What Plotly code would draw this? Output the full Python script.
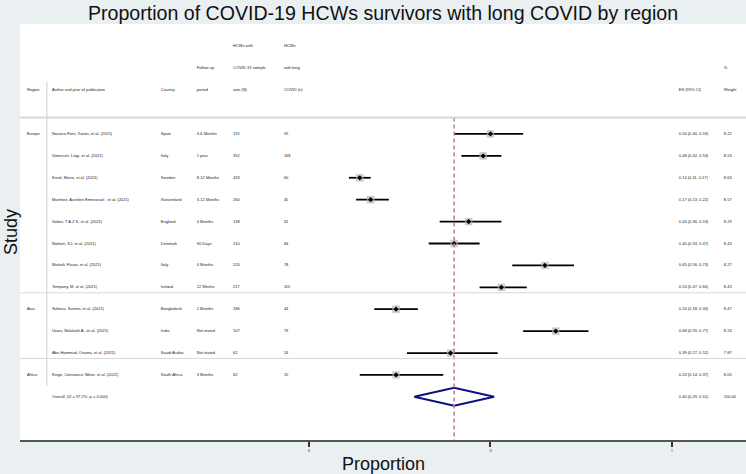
import plotly.graph_objects as go
import numpy as np

# study level data
regions = ["Europe", "Europe", "Europe", "Europe", "Europe", "Europe", "Europe", "Europe",
           "Asia", "Asia", "Asia", "Africa"]
authors = ["Navarro Font, Xavier, et al. (2021)",
           "Vimercati, Luigi, et al. (2021)",
           "Kisiel, Marta, et al. (2021)",
           "Martinez, Aurelien Emmanuel , et al. (2021)",
           "Gaber, T A-Z K, et al. (2021)",
           "Nielsen, KJ, et al. (2021)",
           "Mattioli, Flavia, et al. (2021)",
           "Tempany, M. et al. (2021)",
           "Sultana, Sarmin, et al. (2021)",
           "Uvais, Nalakath A., et al. (2021)",
           "Abu-Hammad, Osama, et al. (2021)",
           "Kinge, Constance Wose, et al. (2022)"]
countries = ["Spain", "Italy", "Sweden", "Switzerland", "England", "Denmark", "Italy", "Ireland",
             "Bangladesh", "India", "Saudi Arabia", "South Africa"]
followup = ["4-6 Months", "1 year", "8-12 Months", "3-12 Months", "4 Months", "90 Days",
            "4 Months", "12 Weeks", "2 Months", "Not stated", "Not stated", "3 Months"]
sample_n = ["119", "352", "433", "260", "138", "210", "120", "217", "186", "107", "62", "62"]
long_n = ["59", "168", "60", "45", "61", "84", "78", "115", "44", "73", "24", "15"]
es = [0.50, 0.48, 0.14, 0.17, 0.44, 0.40, 0.65, 0.53, 0.24, 0.68, 0.39, 0.24]
lo = [0.40, 0.42, 0.11, 0.13, 0.36, 0.33, 0.56, 0.47, 0.18, 0.59, 0.27, 0.14]
hi = [0.59, 0.53, 0.17, 0.22, 0.53, 0.47, 0.73, 0.60, 0.30, 0.77, 0.52, 0.37]
weight = [8.22, 8.53, 8.63, 8.57, 8.29, 8.43, 8.27, 8.43, 8.47, 8.24, 7.87, 8.05]

overall_label = "Overall  (I2 = 97.2%, p = 0.000)"
overall_es, overall_lo, overall_hi, overall_w = 0.40, 0.29, 0.51, 100.00

tick_vals = [0, 0.5, 1]
tick_text = ["0", ".5", "1"]

n = len(es)
rows = np.arange(1, n + 1)
overall_row = n + 1

# column positions (x in data units)
col = dict(region=-0.777, author=-0.708, country=-0.408, period=-0.309,
           size=-0.209, covid=-0.069, es=1.019, weight=1.143)

txt_font = dict(family="Liberation Sans, Arial", size=4, color="#222222")
big_font = dict(family="Liberation Sans, Arial", size=18, color="#111111")

fig = go.Figure()

# confidence intervals
ci_x, ci_y = [], []
for i in range(n):
    ci_x += [lo[i], hi[i], None]
    ci_y += [rows[i], rows[i], None]
fig.add_trace(go.Scatter(x=ci_x, y=ci_y, mode="lines",
                         line=dict(color="black", width=1.8), hoverinfo="skip"))

# weight boxes + point estimates
box_size = [7.5 * np.sqrt(w / 8.3) for w in weight]
fig.add_trace(go.Scatter(x=es, y=rows, mode="markers",
                         marker=dict(symbol="square", size=box_size, color="#b8b8b8",
                                     line=dict(width=0))))
fig.add_trace(go.Scatter(x=es, y=rows, mode="markers",
                         marker=dict(symbol="diamond", size=4, color="black",
                                     line=dict(width=0))))

# overall diamond
h = 0.41
fig.add_trace(go.Scatter(
    x=[overall_lo, overall_es, overall_hi, overall_es, overall_lo],
    y=[overall_row, overall_row - h, overall_row, overall_row + h, overall_row],
    mode="lines", line=dict(color="#101080", width=2)))

# overall reference line
fig.add_trace(go.Scatter(x=[overall_es, overall_es], y=[0.25, 15.2], mode="lines",
                         line=dict(color="#b88a8e", width=1.6, dash="4px,3px")))

# header text
headers = [
    (-3, col["size"], "HCWs with"), (-3, col["covid"], "HCWs"),
    (-2, col["period"], "Follow-up"), (-2, col["size"], "COVID-19 sample"),
    (-2, col["covid"], "with long"), (-2, col["weight"], "%"),
    (-1, col["region"], "Region"), (-1, col["author"], "Author and year of publication"),
    (-1, col["country"], "Country"), (-1, col["period"], "period"),
    (-1, col["size"], "size (N)"), (-1, col["covid"], "COVID (n)"),
    (-1, col["es"], "ES (95% CI)"), (-1, col["weight"], "Weight"),
]
fig.add_trace(go.Scatter(x=[hx for _, hx, _ in headers], y=[hy for hy, _, _ in headers],
                         text=[ht for _, _, ht in headers], mode="text", cliponaxis=False,
                         textposition="middle right", textfont=txt_font))

# region labels at start of each group
reg_rows, reg_txt, seps = [], [], [0.25]
for i, r in enumerate(regions):
    if i == 0 or regions[i - 1] != r:
        reg_rows.append(rows[i])
        reg_txt.append(r)
        if i > 0:
            seps.append(rows[i] - 0.75)
fig.add_trace(go.Scatter(x=[col["region"]] * len(reg_rows), y=reg_rows, text=reg_txt,
                         mode="text", cliponaxis=False, textposition="middle right",
                         textfont=txt_font))

es_txt = ["%.2f (%.2f, %.2f)" % (e, l, u) for e, l, u in zip(es, lo, hi)]
w_txt = ["%.2f" % w for w in weight]
columns = [
    (col["author"], authors + [overall_label]),
    (col["country"], countries),
    (col["period"], followup),
    (col["size"], sample_n),
    (col["covid"], long_n),
    (col["es"], es_txt + ["%.2f (%.2f, %.2f)" % (overall_es, overall_lo, overall_hi)]),
    (col["weight"], w_txt + ["%.2f" % overall_w]),
]
for cx, vals in columns:
    yy = list(rows) + [overall_row] if len(vals) > n else list(rows)
    fig.add_trace(go.Scatter(x=[cx] * len(vals), y=yy, text=vals, mode="text",
                             cliponaxis=False, textposition="middle right",
                             textfont=txt_font))

shapes = []
for k, s in enumerate(seps):
    shapes.append(dict(type="line", xref="paper", yref="y", x0=0, x1=1, y0=s, y1=s,
                       line=dict(color="#d8d8d8", width=2 if k == 0 else 1)))
shapes.append(dict(type="line", xref="x", yref="y", x0=-0.722, x1=-0.722, y0=-1.4, y1=12.5,
                   line=dict(color="#cfcfcf", width=1)))

fig.update_layout(
    width=746, height=474,
    margin=dict(l=20, r=0, t=24, b=34, autoexpand=False),
    paper_bgcolor="#eaeff2", plot_bgcolor="white",
    showlegend=False,
    shapes=shapes,
    title=dict(text="Proportion of COVID-19 HCWs survivors with long COVID by region",
               x=0.5, xref="paper", y=1 - 13 / 474, yref="container",
               xanchor="center", yanchor="middle",
               font=dict(family="Liberation Sans, Arial", size=19.6, color="#111111")),
    annotations=[
        dict(text="Proportion", xref="paper", yref="paper", x=0.5, y=-24 / 416,
             xanchor="center", yanchor="middle", showarrow=False, font=big_font),
        dict(text="Study", xref="paper", yref="paper", x=-21 / 726, y=0.5, textangle=-90,
             xanchor="left", yanchor="middle", showarrow=False, font=big_font),
    ],
    xaxis=dict(range=[-0.796, 1.204], showgrid=False, zeroline=False, automargin=False,
               tickvals=tick_vals, ticktext=tick_text, ticks="outside", ticklen=5,
               tickwidth=1.5, tickcolor="#333333", showline=True, linecolor="#555555",
               linewidth=2, tickfont=dict(size=4, color="#222222")),
    yaxis=dict(range=[14.97, -4.02], showgrid=False, zeroline=False, showticklabels=False,
               automargin=False),
)

fig.write_html("out.html", config={"displayModeBar": False},
               post_script="document.body.style.margin='0';")
